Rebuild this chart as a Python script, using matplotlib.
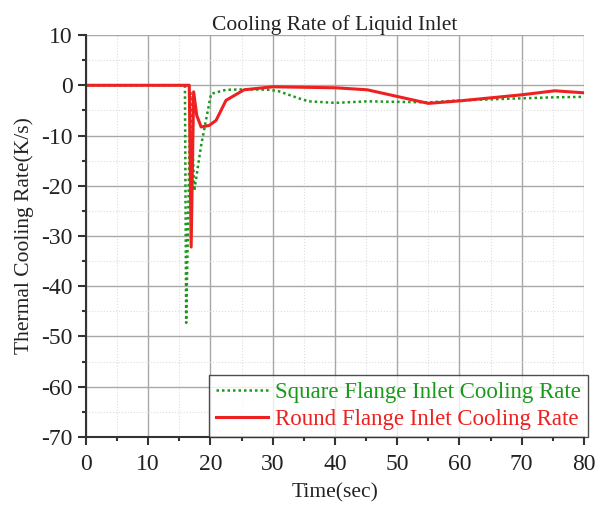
import numpy as np
import matplotlib.pyplot as plt
from matplotlib.ticker import MultipleLocator

plt.rcParams['font.family'] = ['Liberation Serif', 'DejaVu Serif']
plt.rcParams['axes.unicode_minus'] = False

# Square flange inlet cooling rate (K/s)
t_square = [0, 15.9, 16.1, 16.8, 17.4, 18.5, 20.1, 22.5, 26.0, 29.5, 31.0, 34.2, 35.8,
            40.1, 45.2, 50.0, 55.0, 60.1, 65.0, 70.0, 75.0, 80.0]
rate_square = [0, 0, -47.3, -1.5, -21.0, -12.0, -1.7, -0.9, -0.8, -0.9, -1.2, -2.6, -3.2,
               -3.5, -3.2, -3.3, -3.4, -3.0, -2.8, -2.6, -2.4, -2.3]

# Round flange inlet cooling rate (K/s)
t_round = [0, 16.6, 16.9, 17.3, 17.8, 18.5, 19.8, 20.9, 22.5, 25.4, 30.0, 40.1,
           45.2, 55.0, 60.1, 70.0, 75.3, 80.0]
rate_round = [0, 0, -32.2, -1.3, -6.0, -8.3, -8.0, -7.0, -3.0, -0.9, -0.3, -0.5,
              -0.9, -3.6, -3.1, -1.9, -1.1, -1.5]

fig = plt.figure(figsize=(5.97, 5.08), dpi=100)
ax = fig.add_axes([0.144, 0.140, 0.834, 0.791])

ax.plot(t_square, rate_square, color='#1a9a1a', linestyle=(0, (1, 1.2)), linewidth=1.8,
        label='Square Flange Inlet Cooling Rate')
ax.plot(t_round, rate_round, color='#ee2020', linestyle='-', linewidth=2.2,
        label='Round Flange Inlet Cooling Rate')

ax.set_xlim(0, 80)
ax.set_ylim(-70, 10)
ax.xaxis.set_major_locator(MultipleLocator(10))
ax.xaxis.set_minor_locator(MultipleLocator(5))
ax.yaxis.set_major_locator(MultipleLocator(10))
ax.yaxis.set_minor_locator(MultipleLocator(5))

ax.grid(which='major', color='#a8a8a8', linewidth=1)
ax.grid(which='minor', color='#dddddd', linewidth=0.8, linestyle=':')
ax.set_axisbelow(True)

for side in ['top', 'right']:
    ax.spines[side].set_visible(False)
for side in ['left', 'bottom']:
    ax.spines[side].set_color('#333333')
    ax.spines[side].set_linewidth(1.5)

ax.tick_params(which='major', direction='out', length=6, width=1.5, labelsize=17,
               colors='#333333', labelcolor='#222222')
ax.tick_params(which='minor', direction='out', length=3, width=1.5, colors='#333333')
ax.tick_params(axis='x', which='major', pad=6)

ax.set_xlabel('Time(sec)', fontsize=15.5, color='#222222', labelpad=6)
ax.set_ylabel('Thermal Cooling Rate(K/s)', fontsize=15.5, color='#222222', labelpad=5)
ax.set_title('Cooling Rate of Liquid Inlet', fontsize=15.5, color='#222222', pad=3)

leg = ax.legend(loc='lower right', fontsize=16.5, frameon=True, fancybox=False,
                edgecolor='#222222', handlelength=2.3, borderpad=0.3, labelspacing=0.25,
                handletextpad=0.3, borderaxespad=0.0, bbox_to_anchor=(1.008, 0.0))
leg.get_frame().set_linewidth(1.0)
for text, line in zip(leg.get_texts(), leg.get_lines()):
    text.set_color(line.get_color())

fig.savefig('out.png', dpi=100)
